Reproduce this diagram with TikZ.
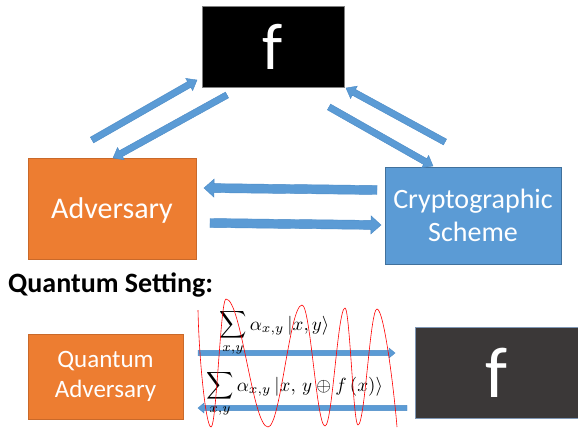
\documentclass[tikz,border=0pt]{standalone}
\usepackage{graphicx}
\usepackage[no-math]{fontspec}
\setmainfont{Carlito}
\usetikzlibrary{calc}
\definecolor{orng}{HTML}{ED7D31}
\definecolor{orngb}{HTML}{C9692A}
\definecolor{blu}{HTML}{5B9BD5}
\definecolor{blub}{HTML}{41719C}
\definecolor{arrb}{HTML}{4A8AC6}
\definecolor{dgray}{HTML}{3B3838}
\definecolor{dgrayb}{HTML}{7F97B5}
\newcommand\blockarr[5]{%
  \coordinate (bah) at ($(#2)!#5!(#1)$);
  \filldraw[arrowfill] ($(#1)!#3!90:(#2)$) -- ($(bah)!#3!90:(#2)$) -- ($(bah)!#4!90:(#2)$) -- (#2) -- ($(bah)!#4!-90:(#2)$) -- ($(bah)!#3!-90:(#2)$) -- ($(#1)!#3!-90:(#2)$) -- cycle;}
\begin{document}
\begin{tikzpicture}[x=1pt,y=-1pt,
  arrowfill/.style={fill=blu,draw=arrb,line width=0.4pt},
  obox/.style={rectangle,fill=orng,draw=orngb,line width=0.6pt,text=white,inner sep=0pt,align=center},
  bbox/.style={rectangle,fill=blu,draw=blub,line width=0.6pt,text=white,inner sep=0pt,align=center},
  fbox/.style={rectangle,draw=gray,line width=0.6pt,text=white,inner sep=0pt},
  formula/.style={inner sep=0pt,anchor=base west},
  wave/.style={red,line width=0.6pt}]
\useasboundingbox (0,0) rectangle (578,429);
% top part
\node[fbox,fill=black,minimum width=142pt,minimum height=81pt,font=\fontsize{66}{70}\selectfont] (ftop) at (273,47) {f};
\node[obox,minimum width=168pt,minimum height=101pt,font=\fontsize{30}{33}\selectfont,text height=19pt,text depth=0pt] (adv) at (112,208.5) {Adversary};
\node[bbox,minimum width=176pt,minimum height=97pt,font=\fontsize{28}{33}\selectfont] (crypto) at (473,215.5) {Cryptographic\\Scheme};
\coordinate (a1s) at (92,140);  \coordinate (a1e) at (197,80);
\coordinate (a2s) at (227,95);  \coordinate (a2e) at (113,158);
\coordinate (a3s) at (329,107); \coordinate (a3e) at (433,166);
\coordinate (a4s) at (445,142); \coordinate (a4e) at (346,88);
\coordinate (a5s) at (377,190); \coordinate (a5e) at (204,188);
\coordinate (a6s) at (210,223); \coordinate (a6e) at (381,225);
\blockarr{a1s}{a1e}{3.3pt}{7pt}{9pt}
\blockarr{a2s}{a2e}{3.3pt}{7pt}{9pt}
\blockarr{a3s}{a3e}{3.3pt}{7pt}{9pt}
\blockarr{a4s}{a4e}{3.3pt}{7pt}{9pt}
\blockarr{a5s}{a5e}{4.5pt}{9pt}{10pt}
\blockarr{a6s}{a6e}{4.5pt}{9pt}{10pt}
% quantum setting
\node[inner sep=0pt,anchor=base west,font=\fontsize{28}{32}\selectfont\bfseries] (qs) at (8,292) {Quantum Setting:};
\node[obox,minimum width=155pt,minimum height=85pt,font=\fontsize{25}{30}\selectfont] (qadv) at (105.5,376.5) {Quantum\\Adversary};
\node[fbox,fill=dgray,draw=dgrayb,minimum width=163pt,minimum height=91pt,font=\fontsize{72}{76}\selectfont] (fbot) at (496.5,372.5) {f};
\coordinate (b1s) at (198,353); \coordinate (b1e) at (395,353);
\coordinate (b2s) at (407,408); \coordinate (b2e) at (198,408);
\blockarr{b1s}{b1e}{2.6pt}{5pt}{6pt}
\blockarr{b2s}{b2e}{2.6pt}{5pt}{6pt}
\node[formula] (q1) at (219,330) {\scalebox{1.9}{$\displaystyle\sum_{x,y}\alpha_{x,y}\,|x,y\rangle$}};
\node[formula] (q2) at (206,391) {\scalebox{1.9}{$\displaystyle\sum_{x,y}\alpha_{x,y}\,|x,\,y\mathbin{\oplus} f\,(x)\rangle$}};
% red wave
\draw[wave] (198,310) .. controls (199,360) and (206,427) .. (211,427)
  .. controls (216.5,427) and (220.5,299) .. (226,299)
  .. controls (241.3,299) and (252.7,427) .. (268,427)
  .. controls (280.4,427) and (289.6,305) .. (302,305)
  .. controls (310.4,305) and (316.6,426) .. (325,426)
  .. controls (332.3,426) and (337.7,308) .. (345,308)
  .. controls (349.7,308) and (353.3,425) .. (358,425)
  .. controls (364.9,425) and (370.1,309) .. (377,309)
  .. controls (384,309) and (394,390) .. (397,427);
\end{tikzpicture}
\end{document}
